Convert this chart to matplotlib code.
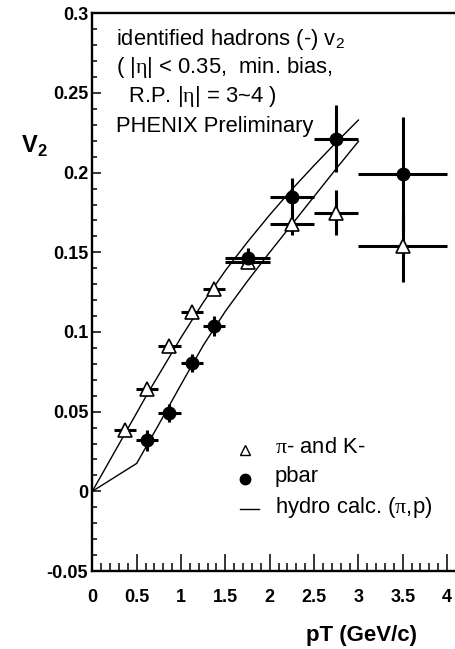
import matplotlib
matplotlib.use("Agg")
import matplotlib.pyplot as plt
from matplotlib.ticker import MultipleLocator, FixedLocator, FixedFormatter

plt.rcParams['font.family'] = ['Liberation Sans', 'DejaVu Sans']
plt.rcParams['mathtext.fontset'] = 'custom'
plt.rcParams['mathtext.rm'] = 'Liberation Serif'
plt.rcParams['mathtext.sf'] = 'Liberation Sans'
plt.rcParams['mathtext.bf'] = 'Liberation Sans:bold'

# ---------------- data ----------------
# pi- and K- (open triangles)
pik_pt = [0.37, 0.62, 0.87, 1.12, 1.37, 1.75, 2.25, 2.75, 3.5]
pik_v2 = [0.0387, 0.0644, 0.0910, 0.1123, 0.1272, 0.1439, 0.1680, 0.1747, 0.1537]
pik_xerr = [0.125, 0.125, 0.125, 0.125, 0.125, 0.25, 0.25, 0.25, 0.5]
pik_yerr = [0.002, 0.002, 0.002, 0.002, 0.003, 0.004, 0.0073, 0.0141, 0.0225]

# pbar (filled circles)
pbar_pt = [0.62, 0.87, 1.12, 1.37, 1.75, 2.25, 2.75, 3.5]
pbar_v2 = [0.0320, 0.0494, 0.0805, 0.1035, 0.1464, 0.1850, 0.2213, 0.1989]
pbar_xerr = [0.125, 0.125, 0.125, 0.125, 0.25, 0.25, 0.25, 0.5]
pbar_yerr = [0.0067, 0.0057, 0.0055, 0.0063, 0.0060, 0.0118, 0.0210, 0.0360]

# hydro calculations
hydro_pi_pt = [0.0, 0.63, 1.0, 1.25, 1.5, 1.75, 2.0, 2.25, 2.5, 2.75, 3.0]
hydro_pi_v2 = [0.0, 0.062, 0.0965, 0.1185, 0.1385, 0.1565, 0.1735, 0.1895, 0.2045, 0.219, 0.233]
hydro_p_pt = [0.0, 0.5, 0.75, 1.0, 1.25, 1.5, 1.75, 2.0, 2.25, 2.5, 2.75, 3.0]
hydro_p_v2 = [0.0, 0.0175, 0.042, 0.067, 0.0915, 0.1130, 0.1320, 0.1500, 0.1675, 0.1850, 0.2025, 0.2196]

xticks = [0, 0.5, 1, 1.5, 2, 2.5, 3, 3.5, 4]
xticklabels = ['0', '0.5', '1', '1.5', '2', '2.5', '3', '3.5', '4']
yticks = [-0.05, 0, 0.05, 0.1, 0.15, 0.2, 0.25, 0.3]
yticklabels = ['-0.05', '0', '0.05', '0.1', '0.15', '0.2', '0.25', '0.3']

# ---------------- figure ----------------
W, H = 455, 649
fig = plt.figure(figsize=(W / 100, H / 100), dpi=100)
ax = fig.add_axes([92.3 / W, 1 - 571 / H, (455 - 92.3) / W, (571 - 13.3) / H])
ax.set_xlim(0, (455 - 92.3) / 88.7)
ax.set_ylim(-0.05, 0.3)

# hydro lines
ax.plot(hydro_pi_pt, hydro_pi_v2, color='black', lw=1.0, zorder=2)
ax.plot(hydro_p_pt, hydro_p_v2, color='black', lw=1.0, zorder=2)

# error bars
ax.errorbar(pik_pt, pik_v2, xerr=pik_xerr, yerr=pik_yerr, fmt='none',
            ecolor='black', elinewidth=2.2, capsize=0, zorder=3)
ax.errorbar(pbar_pt, pbar_v2, xerr=pbar_xerr, yerr=pbar_yerr, fmt='none',
            ecolor='black', elinewidth=2.2, capsize=0, zorder=3)

# markers
ax.plot(pik_pt, pik_v2, linestyle='none', marker='^', ms=9.5, mfc='white',
        mec='black', mew=1.2, zorder=4)
ax.plot(pbar_pt, pbar_v2, linestyle='none', marker='o', ms=9, mfc='black',
        mec='black', zorder=5)

# axes styling
for s in ['left', 'bottom', 'top']:
    ax.spines[s].set_linewidth(1.7)
ax.spines['right'].set_visible(False)

ax.xaxis.set_major_locator(FixedLocator(xticks))
ax.xaxis.set_major_formatter(FixedFormatter(xticklabels))
ax.xaxis.set_minor_locator(MultipleLocator(0.1))
ax.yaxis.set_major_locator(FixedLocator(yticks))
ax.yaxis.set_major_formatter(FixedFormatter(yticklabels))
ax.yaxis.set_minor_locator(MultipleLocator(0.01))

ax.tick_params(axis='x', which='major', direction='in', length=12, width=1.1,
               pad=13, labelsize=13, top=False)
ax.tick_params(axis='x', which='minor', direction='in', length=6, width=1.1, top=False)
ax.tick_params(axis='y', which='major', direction='in', length=6.5, width=1.1,
               pad=3, labelsize=13, right=False)
ax.tick_params(axis='y', which='minor', direction='in', length=3.6, width=1.1, right=False)
for lab in ax.get_xticklabels() + ax.get_yticklabels():
    lab.set_fontweight('bold')

# annotation block
tfs = 15.8
x0 = (116 - 92.3) / (455 - 92.3)
def ay(py):
    return (571 - py) / (571 - 13.3)
ax.text(x0, ay(40), r'identified hadrons (-) $\mathsf{v}_{\mathsf{2}}$', fontsize=tfs,
        va='center', ha='left', transform=ax.transAxes)
ax.text(x0, ay(68), r'( |$\mathrm{\eta}$| < 0.35,  min. bias,', fontsize=tfs,
        va='center', ha='left', transform=ax.transAxes)
ax.text(x0, ay(97), r'  R.P. |$\mathrm{\eta}$| = 3~4 )', fontsize=tfs,
        va='center', ha='left', transform=ax.transAxes)
ax.text(x0, ay(127), 'PHENIX Preliminary', fontsize=tfs,
        va='center', ha='left', transform=ax.transAxes)

# legend (manual)
def axx(px):
    return (px - 92.3) / (455 - 92.3)
ax.plot([axx(245)], [ay(450)], marker='^', ms=6.5, mfc='white', mec='black',
        mew=1.0, transform=ax.transAxes, linestyle='none')
ax.plot([axx(245)], [ay(479)], marker='o', ms=7.5, mfc='black', mec='black',
        transform=ax.transAxes, linestyle='none')
ax.plot([axx(240), axx(259)], [ay(509), ay(509)], color='black', lw=1.0,
        transform=ax.transAxes)
ax.text(axx(275), ay(448), r'$\mathrm{\pi}$- and K-', fontsize=tfs, va='center',
        ha='left', transform=ax.transAxes)
ax.text(axx(275), ay(477), 'pbar', fontsize=tfs, va='center', ha='left',
        transform=ax.transAxes)
ax.text(axx(275), ay(507), r'hydro calc. ($\mathrm{\pi}$,p)', fontsize=tfs,
        va='center', ha='left', transform=ax.transAxes)

# axis labels
fig.text(21 / W, 1 - 146 / H, r'$\mathbf{V}_{\mathbf{2}}$', fontsize=17,
         ha='left', va='center')
fig.text(417 / W, 1 - 635 / H, 'pT (GeV/c)', fontsize=16, fontweight='bold',
         ha='right', va='center')

fig.savefig('out.png', dpi=100)
